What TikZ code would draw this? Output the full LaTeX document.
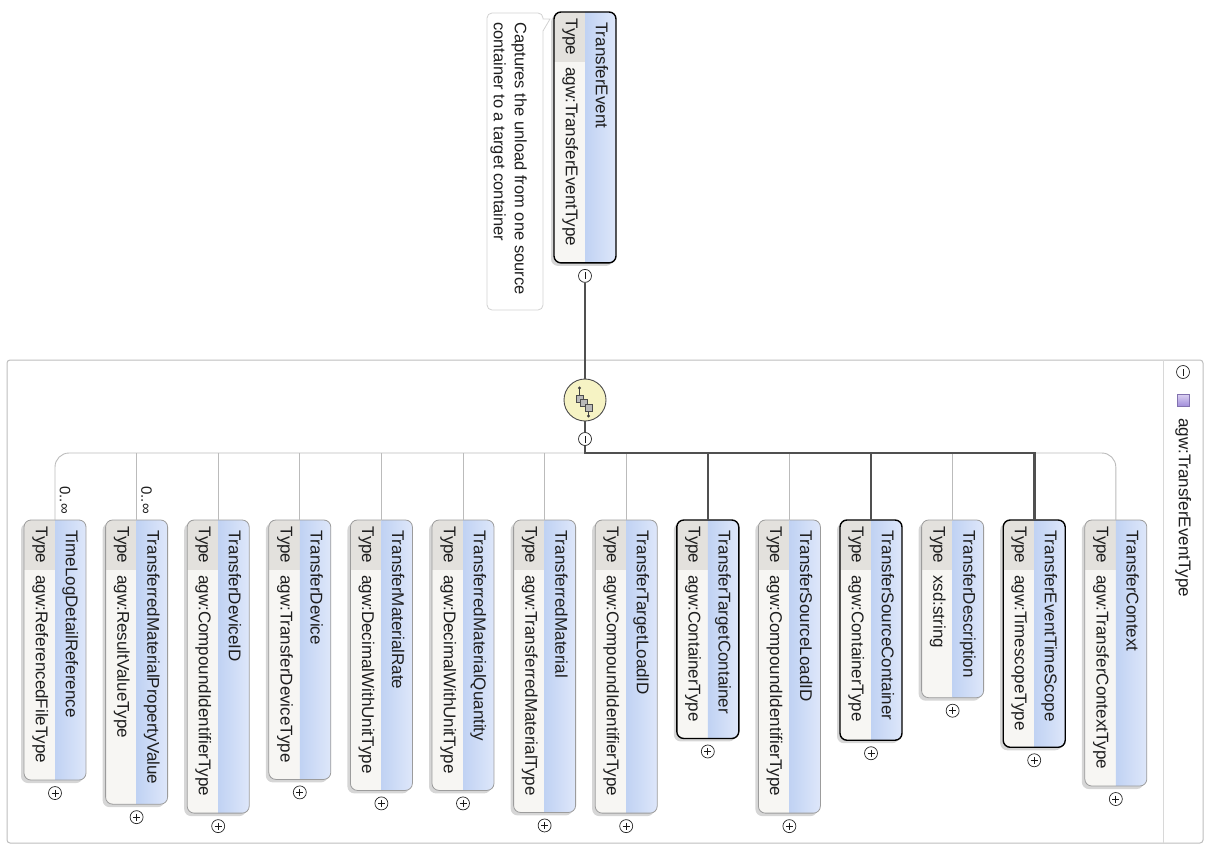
\documentclass[tikz,border=0pt]{standalone}
\usepackage{fontspec}
\setmainfont{Liberation Sans}
\usetikzlibrary{calc}
\definecolor{namecA}{HTML}{C0D2F3}
\definecolor{namecB}{HTML}{DEE7FA}
\definecolor{typebg}{HTML}{F7F6F3}
\definecolor{typecell}{HTML}{E3E1DD}
\definecolor{lightborder}{HTML}{9C9C9C}
\definecolor{connthick}{HTML}{505050}
\definecolor{connthin}{HTML}{BBBBBB}
\definecolor{framec}{HTML}{BEBEBE}
\definecolor{seqfill}{HTML}{F6F3C4}
\definecolor{purpA}{HTML}{DCD2F2}
\definecolor{purpB}{HTML}{A28FDB}
\definecolor{commentc}{HTML}{D2D2D2}
\definecolor{txtc}{HTML}{1E1E1E}
\tikzset{
  txt/.style={inner sep=0pt, text height=12pt, text depth=3.5pt, text=txtc},
  thickconn/.style={draw=connthick, line width=2.6pt},
  thinconn/.style={draw=connthin, line width=0.9pt},
  darkbox/.style={draw=black, line width=1.4pt},
  lightbox/.style={draw=lightborder, line width=0.8pt},
  knob/.style={circle, draw=black!85, fill=white, line width=0.7pt, minimum size=13pt, inner sep=0pt},
  markline/.style={draw=black!90, line width=0.8pt},
}
\newcommand\markplus[1]{\draw[markline] (#1.center) ++(-3.5,0) -- ++(7,0) (#1.center) ++(0,-3.5) -- ++(0,7);}
\newcommand\markminus[1]{\draw[markline] (#1.center) ++(-3.5,0) -- ++(7,0);}
% #1 X centre, #2 Y top, #3 name, #4 type, #5 border style, #6 id, #7 occurrence, #8 plus/minus
\newcommand\xelem[8]{%
  \pgfmathsetmacro\wn{width("#3")}%
  \pgfmathsetmacro\wt{width("#4")}%
  \pgfmathsetmacro\boxlen{max(10+\wn+20,55+\wt+17)}%
  \begin{scope}[shift={(#1,-#2)}, rotate=-90]
    \fill[black, opacity=0.16, rounded corners=7] (3,-34) rectangle (\boxlen+3,28);
    \begin{scope}
      \clip[rounded corners=7] (0,-31) rectangle (\boxlen,31);
      \fill[typebg] (0,-31) rectangle (\boxlen,0);
      \fill[typecell] (0,-31) rectangle (50,0);
      \shade[left color=namecA, right color=namecB] (0,0) rectangle (\boxlen,31);
    \end{scope}
    \draw[#5, rounded corners=7] (0,-31) rectangle (\boxlen,31);
    \coordinate (#6top) at (0,0);
    \node[txt, transform shape, anchor=west] (#6name) at (10,15) {#3};
    \node[txt, transform shape] (#6tl) at (25,-15) {Type};
    \node[txt, transform shape, anchor=west] (#6type) at (55,-15) {#4};
    \node[knob] (#6knob) at (\boxlen+13,0) {};
    \csname mark#8\endcsname{#6knob}
    \if\relax\detokenize{#7}\relax\else
      \node[txt, transform shape, anchor=east, font=\fontsize{15}{18}\selectfont] (#6occ) at (-6,9) {#7};
    \fi
  \end{scope}%
}
\begin{document}
\fontsize{17}{20}\selectfont
\begin{tikzpicture}[x=1pt,y=1pt]
\useasboundingbox[fill=white] (0,0) rectangle (1209,-848);

% complex type frame
\draw[framec, line width=1pt, rounded corners=3] (7,-360) rectangle (1203,-843);
\draw[framec!60, line width=0.8pt] (1163,-360) -- (1163,-843);
\node[knob] (fminus) at (1183,-372) {};
\draw[markline] (fminus.center) ++(0,-3.5) -- ++(0,7);
\shade[top color=purpA, bottom color=purpB, draw=purpB!80!black, line width=0.5pt] (1177,-394) rectangle (1189,-406);
\node[txt, rotate=-90, anchor=west] (ftitle) at (1183,-418) {agw:TransferEventType};

% annotation
\draw[commentc, fill=white, line width=0.8pt] (487,-150) [rounded corners=5] -- (487,-13) -- (543,-13) [sharp corners] -- (543,-19) -- (550,-19) -- (543,-31) [rounded corners=5] -- (543,-310) -- (487,-310) -- cycle;
\node[txt, rotate=-90, anchor=west, font=\fontsize{16.5}{20}\selectfont] (cm1) at (519,-22) {Captures the unload from one source};
\node[txt, rotate=-90, anchor=west, font=\fontsize{16.5}{20}\selectfont] (cm2) at (498,-22) {container to a target container};

% root element
\xelem{585}{12}{TransferEvent}{agw:TransferEventType}{darkbox}{te}{}{minus}

% sequence compositor
\node[circle, draw=black!70, fill=seqfill, line width=0.9pt, minimum size=42pt, inner sep=0pt] (seq) at (585,-400) {};
\draw[black!75, line width=0.8pt] ($(seq)+(-5.5,5)$) -- ($(seq)+(-5.5,12)$);
\fill[black!75] ($(seq)+(-5.5,12)$) circle (1.6);
\draw[black!75, line width=0.8pt] ($(seq)+(3.5,-11)$) -- ($(seq)+(3.5,-16)$);
\fill[black!75] ($(seq)+(3.5,-16)$) circle (1.6);
\draw[black!70, fill=gray!55, line width=0.6pt] ($(seq)+(-9,5)$) rectangle ($(seq)+(-2,-2)$);
\draw[black!70, fill=gray!55, line width=0.6pt] ($(seq)+(-4.5,0.5)$) rectangle ($(seq)+(2.5,-6.5)$);
\draw[black!70, fill=gray!55, line width=0.6pt] ($(seq)+(0,-4)$) rectangle ($(seq)+(7,-11)$);
\node[knob] (seqm) at (585,-439) {};
\draw[markline] (seqm.center) ++(0,-3.5) -- ++(0,7);
\coordinate (bus) at (585,-453);

% children
\xelem{55}{520}{TimeLogDetailReference}{agw:ReferencedFileType}{lightbox}{ca}{0..∞}{plus}
\xelem{136.6}{520}{TransferredMaterialPropertyValue}{agw:ResultValueType}{lightbox}{cb}{0..∞}{plus}
\xelem{218.2}{520}{TransferDeviceID}{agw:CompoundIdentifierType}{lightbox}{cc}{}{plus}
\xelem{299.8}{520}{TransferDevice}{agw:TransferDeviceType}{lightbox}{cd}{}{plus}
\xelem{381.4}{520}{TransferMaterialRate}{agw:DecimalWithUnitType}{lightbox}{ce}{}{plus}
\xelem{463}{520}{TransferredMaterialQuantity}{agw:DecimalWithUnitType}{lightbox}{cf}{}{plus}
\xelem{544.6}{520}{TransferredMaterial}{agw:TransferredMaterialType}{lightbox}{cg}{}{plus}
\xelem{626.2}{520}{TransferTargetLoadID}{agw:CompoundIdentifierType}{lightbox}{ch}{}{plus}
\xelem{707.8}{520}{TransferTargetContainer}{agw:ContainerType}{darkbox}{ci}{}{plus}
\xelem{789.4}{520}{TransferSourceLoadID}{agw:CompoundIdentifierType}{lightbox}{cj}{}{plus}
\xelem{871}{520}{TransferSourceContainer}{agw:ContainerType}{darkbox}{ck}{}{plus}
\xelem{952.6}{520}{TransferDescription}{xsd:string}{lightbox}{cl}{}{plus}
\xelem{1034.2}{520}{TransferEventTimeScope}{agw:TimescopeType}{darkbox}{cm}{}{plus}
\xelem{1115.8}{520}{TransferContext}{agw:TransferContextType}{lightbox}{cn}{}{plus}

% connectors
\draw[thinconn, rounded corners=14] (catop) -- (catop |- bus) -- (cntop |- bus) -- (cntop);
\foreach \k in {cb,cc,cd,ce,cf,cg,ch,cj,cl}{
  \draw[thinconn] (\k top |- bus) -- (\k top);
}
\draw[thickconn] (teknob.south) -- (seq.north);
\draw[thickconn] (seq.south) -- (seqm.north);
\draw[thickconn] (seqm.south) -- (bus) -- (cmtop |- bus) -- (cmtop);
\draw[thickconn] (citop |- bus) -- (citop);
\draw[thickconn] (cktop |- bus) -- (cktop);
\end{tikzpicture}
\end{document}
